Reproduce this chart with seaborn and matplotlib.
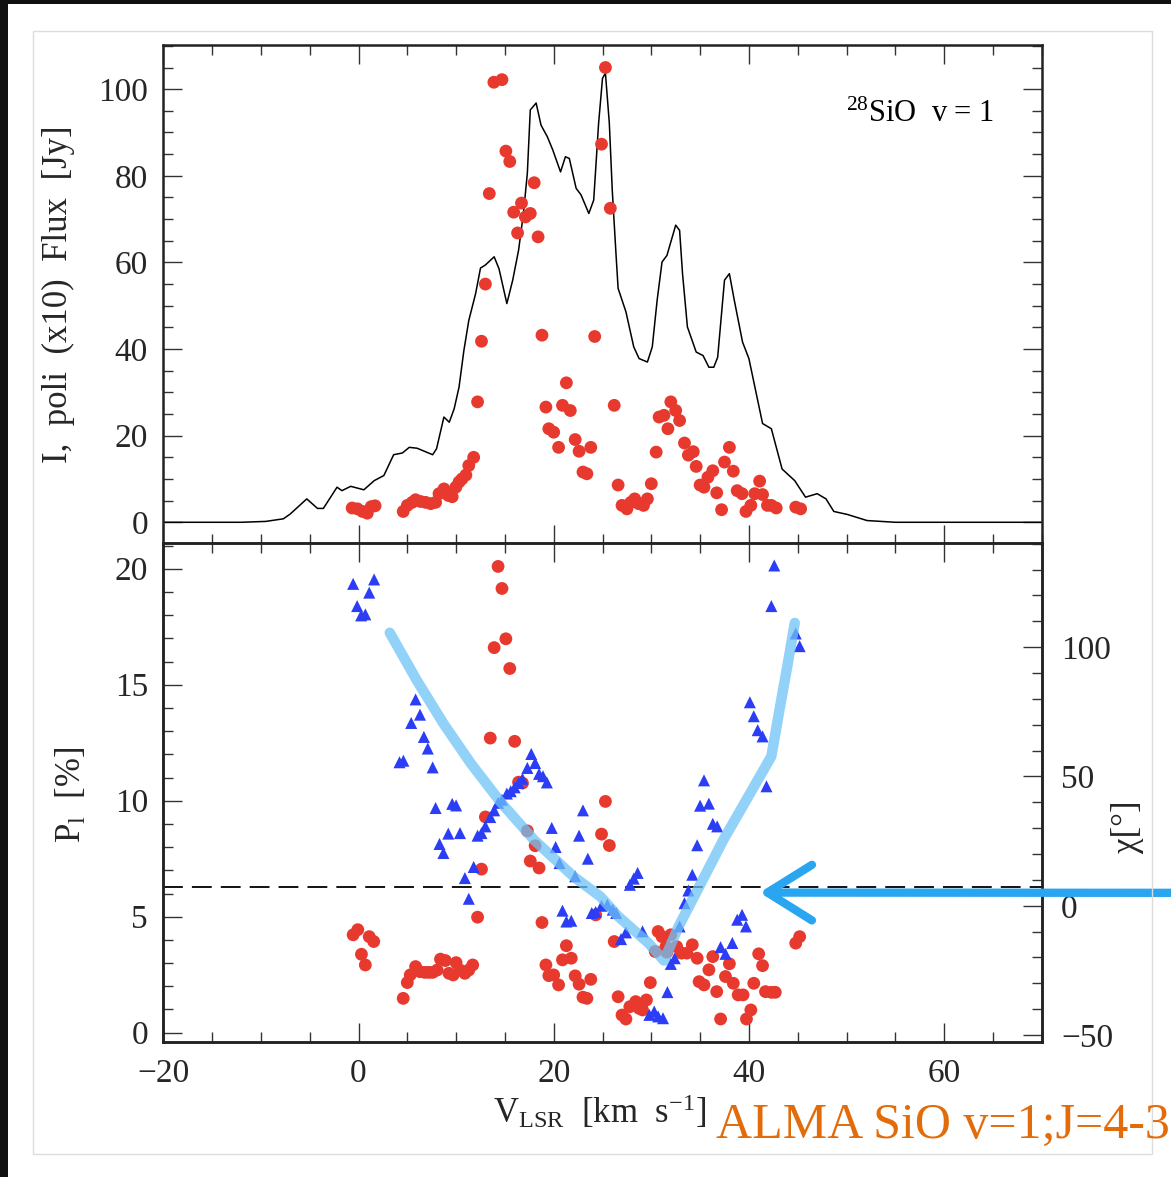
import numpy as np
import pandas as pd
import matplotlib
matplotlib.use("Agg")
import matplotlib.pyplot as plt
from matplotlib.patches import Rectangle
from matplotlib.ticker import MultipleLocator
import seaborn as sns

# ---------------------------------------------------------------- data
# Total-intensity spectrum (scaled flux, Jy) versus V_LSR (km/s)
spec_v = [-20, -12, -9.5, -7.7, -7.0, -5.3, -4.2, -3.6, -2.2, -1.7, -0.8, 0.55,
          1.6, 2.6, 3.6, 4.5, 5.2, 6.0, 7.6, 8.0, 8.75, 9.3, 9.8, 10.3, 10.8,
          11.3, 12.0, 12.5, 13.0, 13.9, 14.4, 15.2, 15.8, 16.4, 16.9, 17.3,
          17.6, 18.2, 18.7, 19.35, 19.9, 20.7, 21.2, 21.6, 22.3, 22.8, 23.6,
          24.1, 24.6, 25.0, 25.3, 25.7, 26.0, 26.4, 26.6, 27.4, 28.2, 28.75,
          29.6, 30.1, 30.6, 31.1, 31.6, 32.5, 32.9, 33.2, 33.7, 34.6, 35.3,
          35.9, 36.4, 36.8, 37.5, 38.0, 38.5, 39.35, 40.0, 41.4, 42.3, 43.4,
          44.7, 45.8, 47.0, 47.9, 48.7, 50.1, 52.1, 55.0, 70.0]
spec_flux = [0, 0, 0.2, 0.8, 1.9, 5.4, 3.2, 3.2, 8.1, 7.3, 8.3, 7.5,
             9.6, 10.8, 15.6, 16.0, 17.3, 17.1, 15.6, 17.0, 24.3, 23.1, 26.2,
             31.2, 39.7, 46.6, 52.8, 58.7, 59.4, 61.3, 58.5, 50.5, 55.9, 62.8,
             71.3, 80.6, 95.2, 96.8, 91.7, 89.0, 86.0, 80.9, 84.4, 84.0, 77.1,
             75.6, 71.3, 74.4, 92.1, 102.5, 103.7, 92.1, 76.7, 61.3, 54.0,
             48.6, 40.5, 37.8, 37.0, 40.5, 51.3, 60.1, 61.6, 68.6, 67.4, 57.4,
             45.1, 39.3, 38.5, 35.8, 35.8, 38.1, 55.9, 57.4, 51.3, 41.6, 37.8,
             22.8, 21.6, 12.3, 9.6, 5.8, 6.6, 5.4, 2.5, 1.8, 0.4, 0, 0]

# Linearly polarized flux (x10) per channel
poli_v = [-0.65, -0.1, 0.4, 0.9, 1.3, 1.7,
          4.58, 5.0, 5.5, 5.85, 6.36, 6.88, 7.4, 7.9, 8.25, 8.76, 9.2, 9.6,
          9.97, 10.3, 10.6, 11.0, 11.3, 11.8,
          12.2, 12.6, 13.0, 13.4, 13.87, 14.7, 15.1, 15.5, 15.9, 16.3, 16.7,
          17.1, 17.6, 18.0, 18.4, 18.8, 19.2, 19.5, 20.0, 20.5, 20.9, 21.3,
          21.7, 22.2, 22.6, 23.0, 23.4, 23.8, 24.2, 24.9, 25.3, 25.8, 26.2,
          26.6, 27.0, 27.5, 27.9, 28.3, 28.7, 29.2, 29.6, 30.0, 30.5, 30.8,
          31.3, 31.7, 32.0, 32.5, 32.9, 33.4, 33.8, 34.3, 34.6, 35.0, 35.4,
          35.8, 36.3, 36.7, 37.2, 37.5, 38.0, 38.4, 38.8, 39.3, 39.7, 40.2,
          40.6, 41.1, 41.4, 41.9, 42.3, 42.8, 44.8, 45.3]
poli_flux = [3.3, 3.1, 2.5, 2.1, 3.6, 3.8,
             2.5, 3.9, 4.6, 5.2, 4.8, 4.6, 4.3, 4.6, 6.6, 7.7, 6.2, 5.9,
             8.1, 9.3, 10.0, 10.9, 13.1, 15.0,
             27.8, 41.8, 55.0, 75.9, 101.6, 102.2, 85.7, 83.3, 71.6, 66.8, 73.7,
             70.5, 71.3, 78.4, 65.9, 43.2, 26.6, 21.6, 20.8, 17.3, 27.0, 32.2,
             25.8, 19.1, 16.4, 11.6, 11.2, 17.3, 42.9, 87.3, 105.0, 72.5, 27.0,
             8.6, 3.9, 3.1, 4.6, 5.4, 4.3, 3.9, 5.4, 8.9, 16.2, 24.3,
             24.7, 21.6, 27.8, 25.8, 23.5, 18.3, 15.5, 16.3, 12.9, 8.6, 8.1,
             10.4, 11.9, 6.8, 2.9, 13.9, 17.3, 11.8, 7.3, 6.6, 2.5, 3.9,
             6.6, 9.5, 6.4, 3.9, 3.9, 3.3, 3.5, 3.1]

# Fractional linear polarization P_l (%)
pl_v = [-0.55, -0.07, 0.3, 0.7, 1.1, 1.56,
        4.58, 5.0, 5.3, 5.85, 6.3, 6.8, 7.2, 7.6, 8.06, 8.4, 8.9, 9.27, 9.7,
        10.0, 10.4, 10.9, 11.3, 11.7,
        12.2, 12.6, 13.0, 13.5, 13.9, 14.3, 14.7, 15.1, 15.5, 16.0, 16.4,
        16.8, 17.3, 17.6, 18.1, 18.5, 18.8, 19.2, 19.5, 20.0, 20.5, 20.9,
        21.3, 21.8, 22.2, 22.6, 23.0, 23.4, 23.8, 24.3, 24.9, 25.3, 25.7,
        26.2, 26.6, 27.0, 27.4, 27.8, 28.4, 28.75, 29.1, 29.5, 29.9, 30.4,
        30.7, 31.1, 31.5, 31.6, 32.0, 32.6, 33.1, 33.65, 34.2, 34.7, 34.9,
        35.4, 35.9, 36.3, 36.7, 37.1, 37.6, 38.0, 38.4, 38.9, 39.4, 39.75,
        40.2, 40.5, 41.0, 41.4, 41.7, 42.3, 42.7, 44.8, 45.2]
pl_pct = [4.22, 4.44, 3.38, 2.92, 4.14, 3.93,
          1.48, 2.16, 2.49, 2.85, 2.63, 2.6, 2.6, 2.6, 2.7, 3.17, 3.11, 2.56,
          2.49, 3.02, 2.7, 2.56, 2.7, 2.92,
          4.98, 7.05, 9.3, 12.7, 16.6, 20.1, 19.15, 16.98, 15.7, 12.56, 10.8,
          10.76, 8.7, 7.4, 8.06, 7.1, 4.75, 2.92, 2.46, 2.49, 2.06, 3.14,
          3.75, 3.21, 2.45, 2.09, 1.53, 1.48, 2.3, 5.08, 8.56, 9.97, 8.07,
          3.93, 1.55, 0.76, 0.59, 1.12, 1.34, 1.05, 0.98, 1.41, 2.16, 3.5,
          4.36, 4.14, 3.71, 3.47, 4.22, 3.71, 3.43, 3.43, 3.79, 3.21, 2.2,
          2.06, 2.71, 3.28, 1.77, 0.59, 2.42, 2.97, 2.13, 1.63, 1.63, 0.59,
          0.98, 2.13, 3.4, 2.89, 1.77, 1.74, 1.74, 3.86, 4.14]

# Polarization angle chi (deg)
chi_v = [-0.55, -0.14, 0.27, 0.7, 1.1, 1.6,
         4.2, 4.6, 5.4, 5.85, 6.3, 6.7, 7.1, 7.6, 7.9, 8.3, 8.7, 9.2, 9.6,
         10.0, 10.4, 10.9, 11.3, 11.8, 12.2, 12.6, 13.0, 13.5, 13.9, 14.3,
         14.7, 15.2, 15.6, 16.0, 16.4, 16.8, 17.3, 17.7, 18.1, 18.5, 18.9,
         19.3, 19.8, 20.2, 20.6, 20.9, 21.3, 21.8, 22.2, 22.6, 23.0, 23.5,
         23.9, 24.3, 24.9, 25.5, 26.05, 26.4, 26.9, 27.4, 27.8, 28.2, 28.6,
         29.1, 29.8, 30.3, 30.7, 31.2, 31.65, 32.0, 32.4, 32.9, 33.4, 33.8,
         34.2, 34.7, 35.0, 35.4, 35.9, 36.3, 36.75, 37.1, 37.6, 38.3, 38.8,
         39.3, 39.7, 40.1, 40.5, 40.9, 41.4, 41.8, 42.3, 42.6, 44.8, 45.2]
chi_deg = [124.5, 115.9, 112.3, 112.7, 121.1, 126.2,
           55.5, 56.1, 70.7, 79.8, 73.9, 65.3, 60.8, 53.5, 37.8, 23.9, 20.4,
           27.9, 39.4, 38.8, 28.1, 10.7, 2.7, 15.0, 27.1, 28.1, 30.7, 34.3,
           36.9, 39.8, 41.0, 43.4, 44.3, 45.8, 47.5, 49.1, 53.3, 58.7, 55.2,
           51.0, 50.1, 47.7, 30.1, 22.7, 16.5, -1.9, -6.1, -5.8, 11.4, 27.1,
           36.9, 18.2, -2.8, -2.4, 0.0, 0.4, -1.5, -2.8, -12.9, -10.3, 8.1,
           10.5, 12.7, -9.9, -42.2, -40.9, -42.8, -43.5, -33.4, -22.5, -20.3,
           -8.0, 1.0, 5.9, 12.0, 23.4, 38.7, 48.5, 39.5, 31.7, 30.7, -16.0,
           -18.6, -14.4, -5.4, -3.5, -8.0, 78.7, 73.3, 67.9, 65.5, 46.2,
           115.9, 131.6, 105.3, 100.4]

# Trend of chi traced by hand (V shape)
trend_v = [3.2, 6.0, 8.75, 11.5, 14.6, 18.0, 22.1, 24.8, 26.6, 29.7, 31.3,
           32.8, 35.1, 37.4, 39.75, 42.3, 43.2, 44.0, 44.7]
trend_chi = [105.6, 87.0, 70.2, 55.1, 39.9, 25.4, 11.1, 3.5, -4.1, -14.4,
             -21.2, -8.0, 8.8, 25.6, 41.0, 57.8, 77.2, 94.0, 109.4]

# Reference level in P_l and the arrow pointing at it
p_ref_level = 6.3
arrow_tip = (41.1, 5.1)      # (V_LSR, chi)
arrow_tail = (83.4, 5.0)

x_ticks = [-20, 0, 20, 40, 60]

# ---------------------------------------------------------------- style
sns.set_theme(style="ticks")
plt.rcParams["font.family"] = ["Liberation Serif", "DejaVu Serif"]
plt.rcParams["mathtext.fontset"] = "custom"
plt.rcParams["mathtext.rm"] = "Liberation Serif"
plt.rcParams["mathtext.it"] = "Liberation Serif:italic"
plt.rcParams["axes.unicode_minus"] = True

RED = "#e8392f"
BLUE = "#2b3df5"
INK = "#222222"
TICK_FS = 24
LABEL_FS = 25

W, H = 1171, 1177
fig = plt.figure(figsize=(W / 100, H / 100), dpi=100)
fig.patch.set_facecolor("white")

# page frame: dark edges and a thin grey box
fig.patches.append(Rectangle((0, 1 - 4 / H), 1, 4 / H, transform=fig.transFigure,
                             facecolor="#111111", edgecolor="none", zorder=0))
fig.patches.append(Rectangle((0, 0), 8 / W, 1, transform=fig.transFigure,
                             facecolor="#111111", edgecolor="none", zorder=0))
fig.patches.append(Rectangle((33 / W, 1 - 1154 / H), (1152 - 33) / W, (1154 - 31) / H,
                             transform=fig.transFigure, fill=False,
                             edgecolor="#dcdcdc", lw=1.0, zorder=0))

ax_l, ax_w = 163.3 / W, 878.4 / W
ax_h = 498.5 / H
ax_top = fig.add_axes([ax_l, 1 - 543.5 / H, ax_w, ax_h])
ax_bot = fig.add_axes([ax_l, 1 - 1041.5 / H, ax_w, ax_h])
ax_chi = ax_bot.twinx()

# ---------------------------------------------------------------- top panel
spec = pd.DataFrame({"v": spec_v, "flux": spec_flux})
poli = pd.DataFrame({"v": poli_v, "flux": poli_flux})
sns.lineplot(data=spec, x="v", y="flux", ax=ax_top, color="black", lw=1.1,
             estimator=None, sort=False)
sns.scatterplot(data=poli, x="v", y="flux", ax=ax_top, color=RED, s=85,
                edgecolor="none", linewidth=0, zorder=3)
ax_top.set_xlim(-20, 70)
ax_top.set_ylim(-4.9, 110.2)
ax_top.text(0.777, 0.8455, r"$^{28}$SiO  v = 1", transform=ax_top.transAxes,
            fontsize=22, va="baseline", ha="left", color="black")

# ---------------------------------------------------------------- bottom panel
pl = pd.DataFrame({"v": pl_v, "p": pl_pct})
chi = pd.DataFrame({"v": chi_v, "chi": chi_deg})
trend = pd.DataFrame({"v": trend_v, "chi": trend_chi})

sns.scatterplot(data=pl, x="v", y="p", ax=ax_bot, color=RED, s=85,
                edgecolor="none", linewidth=0, zorder=3)
ax_bot.axhline(p_ref_level, color="black", lw=1.3, dashes=(11, 5), zorder=2)
ax_bot.set_xlim(-20, 70)
ax_bot.set_ylim(-0.38, 21.11)

sns.scatterplot(data=chi, x="v", y="chi", ax=ax_chi, marker="^", color=BLUE,
                s=75, edgecolor="none", linewidth=0, zorder=3)
sns.lineplot(data=trend, x="v", y="chi", ax=ax_chi, color="#6ec3f7", lw=7.5,
             alpha=0.75, estimator=None, sort=False, zorder=4)
ax_chi.set_ylim(-52.5, 140.3)
ax_chi.set_xlim(-20, 70)

ax_chi.annotate("", xy=arrow_tip, xytext=arrow_tail, xycoords="data",
                textcoords="data", annotation_clip=False,
                arrowprops=dict(arrowstyle="->,head_length=1.6,head_width=1.0",
                                color="#2aa6f0", lw=6, mutation_scale=20,
                                shrinkA=0, shrinkB=0, capstyle="round",
                                joinstyle="round"))

# ---------------------------------------------------------------- axes styling
for ax in (ax_top, ax_bot, ax_chi):
    for sp in ax.spines.values():
        sp.set_visible(True)
        sp.set_linewidth(1.8)
        sp.set_color(INK)
    ax.set_xticks(x_ticks)
    ax.xaxis.set_minor_locator(MultipleLocator(5))

tick_kw = dict(direction="in", color="#333333", width=1.0)
ax_top.yaxis.set_major_locator(MultipleLocator(20))
ax_top.yaxis.set_minor_locator(MultipleLocator(5))
ax_top.tick_params(which="both", top=True, bottom=True, left=True, right=True,
                   labelbottom=False, labelsize=TICK_FS, pad=11, **tick_kw)
ax_top.tick_params(which="major", length=14)
ax_top.tick_params(which="minor", length=7)

ax_bot.yaxis.set_major_locator(MultipleLocator(5))
ax_bot.yaxis.set_minor_locator(MultipleLocator(1))
ax_bot.tick_params(which="both", top=True, bottom=True, left=True, right=False,
                   labelsize=TICK_FS, **tick_kw)
ax_bot.tick_params(axis="y", which="both", pad=11)
ax_bot.tick_params(axis="x", which="both", pad=12)
ax_bot.tick_params(which="major", length=14)
ax_bot.tick_params(which="minor", length=7)

ax_chi.yaxis.set_major_locator(MultipleLocator(50))
ax_chi.yaxis.set_minor_locator(MultipleLocator(10))
ax_chi.tick_params(axis="y", which="both", left=False, right=True,
                   labelsize=TICK_FS, pad=14, **tick_kw)
ax_chi.tick_params(axis="y", which="major", length=14)
ax_chi.tick_params(axis="y", which="minor", length=7)
ax_chi.tick_params(axis="x", which="both", top=False, bottom=False,
                   labeltop=False, labelbottom=False)

# ---------------------------------------------------------------- labels
ax_top.set_xlabel("")
ax_top.set_ylabel("I,  poli  (x10)  Flux  [Jy]", fontsize=LABEL_FS)
ax_top.yaxis.set_label_coords(-0.1199, 0.5)
ax_top.yaxis.label.set_va("center")

ax_bot.set_ylabel(r"P$_{\rm l}$  [%]", fontsize=LABEL_FS)
ax_bot.yaxis.set_label_coords(-0.104, 0.4945)
ax_bot.yaxis.label.set_va("center")

ax_chi.set_ylabel("χ[°]", fontsize=LABEL_FS)
ax_chi.yaxis.set_label_coords(1.098, 0.431)
ax_chi.yaxis.label.set_va("center")
ax_chi.yaxis.label.set_rotation(90)

ax_bot.set_xlabel(r"V$_{\rm LSR}$  [km  s$^{-1}$]", fontsize=LABEL_FS)
ax_bot.xaxis.set_label_coords(0.497, -0.1414)
ax_bot.xaxis.label.set_va("center")
ax_chi.set_xlabel("")

fig.text(716 / W, 1 - 1137.7 / H, "ALMA SiO v=1;J=4-3", color="#e36c0a",
         fontsize=36, va="baseline", ha="left")

fig.savefig("out.png", dpi=100, facecolor="white")
